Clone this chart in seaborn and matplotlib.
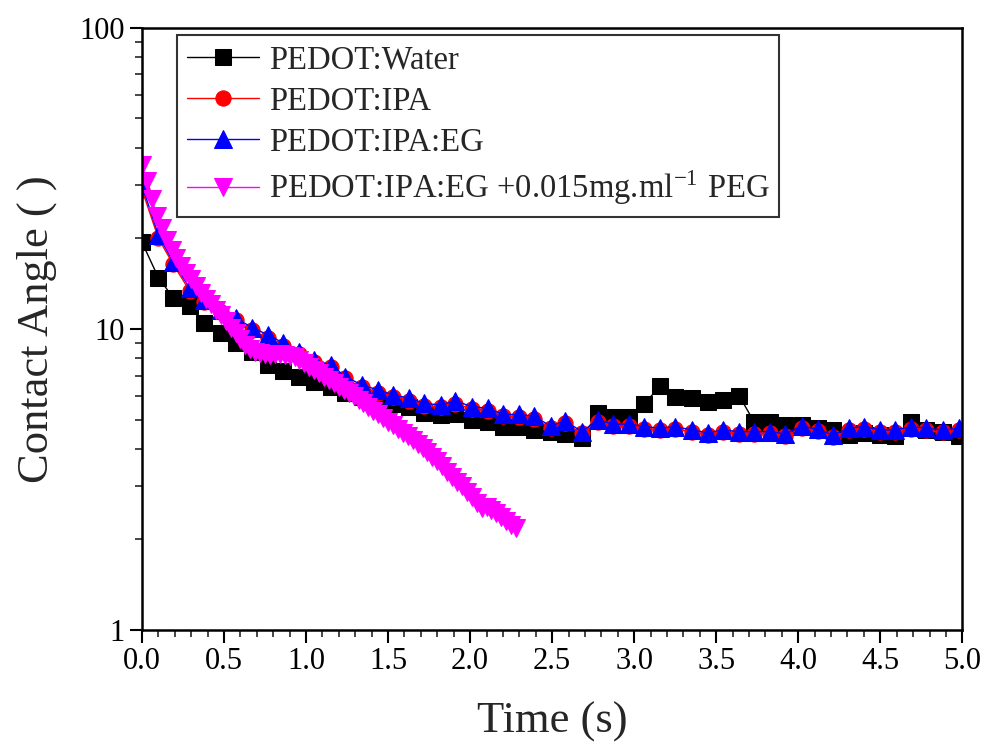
import matplotlib
matplotlib.use('Agg')

import matplotlib.pyplot as plt
import seaborn as sns
from matplotlib.ticker import MultipleLocator, FixedLocator, NullFormatter, LogLocator

# sampling times of the three slow series (s)
time_s = [0.00, 0.10, 0.19, 0.29, 0.38, 0.48, 0.57, 0.67, 0.77, 0.86, 0.96,
          1.05, 1.15, 1.24, 1.34, 1.44, 1.53, 1.63, 1.72, 1.82, 1.91,
          2.01, 2.11, 2.20, 2.30, 2.39, 2.49, 2.58, 2.68, 2.78, 2.87, 2.97,
          3.06, 3.16, 3.25, 3.35, 3.45, 3.54, 3.64, 3.73, 3.83, 3.92,
          4.02, 4.12, 4.21, 4.31, 4.40, 4.50, 4.59, 4.69, 4.78, 4.88, 4.98]

water = [19.4, 14.8, 12.7, 11.9, 10.5, 9.7, 9.0, 8.4, 7.6, 7.25, 6.93,
         6.67, 6.41, 6.13, 5.95, 5.81, 5.63, 5.51, 5.26, 5.18, 5.20,
         5.00, 4.91, 4.74, 4.72, 4.63, 4.56, 4.48, 4.34, 5.26, 5.11, 5.11,
         5.63, 6.47, 5.96, 5.88, 5.73, 5.81, 6.00, 4.92, 4.91, 4.78,
         4.80, 4.69, 4.62, 4.44, 4.50, 4.44, 4.41, 4.91, 4.62, 4.56, 4.41]

ipa = [29.0, 20.0, 16.4, 13.4, 12.3, 11.4, 10.7, 9.9, 9.35, 8.8, 8.25,
       7.75, 7.45, 6.85, 6.4, 6.15, 5.95, 5.78, 5.56, 5.5, 5.65,
       5.42, 5.35, 5.12, 5.1, 5.04, 4.7, 4.86, 4.5, 4.9, 4.75, 4.76,
       4.66, 4.6, 4.66, 4.55, 4.45, 4.54, 4.49, 4.49, 4.5, 4.41,
       4.68, 4.57, 4.38, 4.6, 4.66, 4.55, 4.55, 4.66, 4.6, 4.55, 4.6]

ipa_eg = [30.0, 20.5, 16.7, 13.7, 12.5, 11.6, 10.9, 10.1, 9.55, 8.98, 8.41,
          7.89, 7.59, 6.95, 6.51, 6.27, 6.04, 5.89, 5.66, 5.59, 5.77,
          5.52, 5.45, 5.20, 5.20, 5.13, 4.76, 4.95, 4.56, 4.99, 4.83, 4.83,
          4.74, 4.68, 4.74, 4.62, 4.52, 4.62, 4.56, 4.56, 4.56, 4.48,
          4.76, 4.64, 4.44, 4.68, 4.74, 4.62, 4.62, 4.74, 4.68, 4.62, 4.68]

# PEG sample is recorded more densely
peg_time = [0.00, 0.03, 0.06, 0.09, 0.12, 0.15, 0.18, 0.21, 0.24, 0.27,
            0.30, 0.33, 0.36, 0.39, 0.42, 0.45, 0.48, 0.51, 0.54, 0.57,
            0.60, 0.63, 0.66, 0.69, 0.72, 0.75, 0.78, 0.81, 0.84, 0.87,
            0.90, 0.93, 0.96, 0.99, 1.02, 1.05, 1.08, 1.11, 1.14, 1.17,
            1.20, 1.23, 1.26, 1.29, 1.32, 1.35, 1.38, 1.41, 1.44, 1.47,
            1.50, 1.53, 1.56, 1.59, 1.62, 1.65, 1.68, 1.71, 1.74, 1.77,
            1.80, 1.83, 1.86, 1.89, 1.92, 1.95, 1.98, 2.01, 2.04, 2.07,
            2.10, 2.13, 2.16, 2.19, 2.22, 2.25, 2.28]

peg = [35.0, 31.0, 27.0, 23.8, 21.6, 19.8, 18.3, 17.2, 16.2, 15.3,
       14.6, 13.9, 13.2, 12.6, 12.1, 11.6, 11.1, 10.6, 10.1, 9.7,
       9.25, 8.85, 8.55, 8.4, 8.3, 8.25, 8.2, 8.25, 8.25, 8.2,
       8.15, 8.05, 7.9, 7.7, 7.5, 7.3, 7.12, 6.95, 6.78, 6.6,
       6.43, 6.27, 6.12, 5.97, 5.82, 5.67, 5.5, 5.35, 5.2, 5.05,
       4.92, 4.78, 4.65, 4.52, 4.4, 4.28, 4.15, 4.02, 3.9, 3.76,
       3.63, 3.5, 3.36, 3.23, 3.1, 3.0, 2.88, 2.76, 2.65, 2.55,
       2.56, 2.5, 2.44, 2.37, 2.3, 2.24, 2.18]

x_ticks = [0.0, 0.5, 1.0, 1.5, 2.0, 2.5, 3.0, 3.5, 4.0, 4.5, 5.0]
y_ticks = [1, 10, 100]

sns.set_style('ticks')
plt.rcParams['font.family'] = ['Liberation Serif', 'DejaVu Serif']
plt.rcParams['mathtext.fontset'] = 'stix'

fig = plt.figure(figsize=(9.86, 7.51), dpi=100)
ax = fig.add_axes([0.144, 0.161, 0.832, 0.802])

series = [
    (time_s, water, 'PEDOT:Water', 'black', 's', 11),
    (time_s, ipa, 'PEDOT:IPA', 'red', 'o', 11),
    (time_s, ipa_eg, 'PEDOT:IPA:EG', 'blue', '^', 12.5),
    (peg_time, peg, r'PEDOT:IPA:EG +0.015mg.ml$^{\mathregular{-1}}$ PEG', 'magenta', 'v', 13),
]
for t, v, name, col, mk, ms in series:
    sns.lineplot(x=t, y=v, ax=ax, color=col, marker=mk, markersize=ms,
                 markeredgecolor=col, linewidth=1, label=name)

ax.set_yscale('log')
ax.set_xlim(0, 5)
ax.set_ylim(1, 100)
ax.set_xticks(x_ticks)
ax.set_xticklabels([f'{v:.1f}' for v in x_ticks])
ax.xaxis.set_minor_locator(MultipleLocator(0.1))
ax.yaxis.set_major_locator(FixedLocator(y_ticks))
ax.set_yticklabels([str(v) for v in y_ticks])
ax.yaxis.set_minor_locator(LogLocator(base=10, subs=range(2, 10)))
ax.yaxis.set_minor_formatter(NullFormatter())

ax.tick_params(which='major', direction='out', length=9, width=1.5,
               labelsize=22, top=False, right=False, colors='black')
ax.tick_params(which='minor', direction='out', length=5, width=1.2,
               top=False, right=False)
for sp in ax.spines.values():
    sp.set_linewidth(1.8)
    sp.set_color('black')

ax.set_xlabel('Time (s)', fontsize=32, labelpad=18)
ax.set_ylabel('Contact Angle ( )', fontsize=32, labelpad=16)

leg = ax.legend(loc='upper left', bbox_to_anchor=(0.043, 0.988), fontsize=23.5,
                frameon=True, fancybox=False, framealpha=1, edgecolor='#333333',
                handlelength=2.2, labelspacing=0.33, borderpad=0.3,
                handletextpad=0.3, borderaxespad=0)
leg.get_frame().set_linewidth(1.5)

plt.savefig('out.png', dpi=100)
plt.close()
